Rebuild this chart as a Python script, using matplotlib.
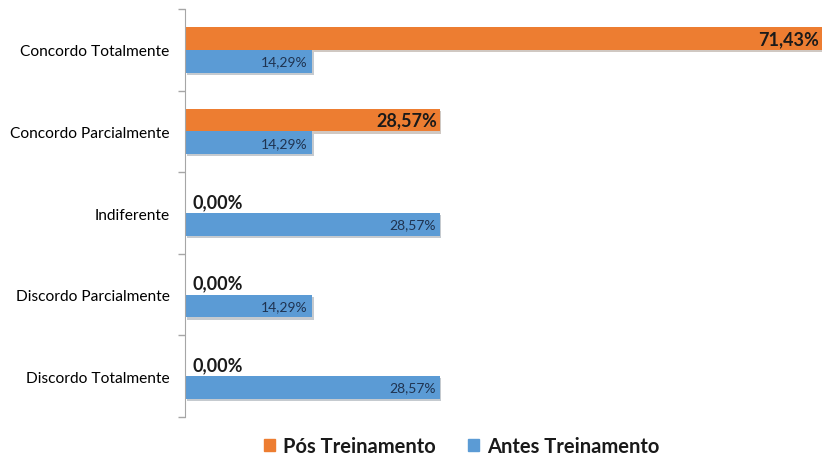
import matplotlib
matplotlib.use("Agg")
import matplotlib.pyplot as plt
import matplotlib.patheffects as pe
from matplotlib.patches import Patch
import numpy as np

plt.rcParams['font.family'] = ['Lato', 'DejaVu Sans']

categories = ["Concordo Totalmente", "Concordo Parcialmente", "Indiferente",
              "Discordo Parcialmente", "Discordo Totalmente"]
pos_treino = [71.43, 28.57, 0.00, 0.00, 0.00]
antes_treino = [14.29, 14.29, 28.57, 14.29, 28.57]
series_names = ["Pós Treinamento", "Antes Treinamento"]

orange = "#ED7D31"
blue = "#5B9BD5"

fig = plt.figure(figsize=(8.24, 4.6), dpi=100)
ax = fig.add_axes([0.2245, 0.0913, 0.7731, 0.8867])

n = len(categories)
y = np.arange(n)[::-1]
h = 0.28
shadow = [pe.SimplePatchShadow(offset=(1.2, -1.5), alpha=0.25), pe.Normal()]

ax.barh(y + h / 2, pos_treino, height=h, color=orange, path_effects=shadow)
ax.barh(y - h / 2, antes_treino, height=h, color=blue, path_effects=shadow)

def fmt(v):
    return f"{v:.2f}%".replace(".", ",")

for yi, v in zip(y, pos_treino):
    if v > 0:
        ax.text(v - 0.3, yi + h / 2, fmt(v), ha='right', va='center',
                fontsize=13, fontweight='bold', color='#1a1a1a')
    else:
        # zero values sit just past the axis line
        ax.text(0.8, yi + h / 2, fmt(v), ha='left', va='center',
                fontsize=13, fontweight='bold', color='#1a1a1a')

for yi, v in zip(y, antes_treino):
    ax.text(v - 0.5, yi - h / 2, fmt(v), ha='right', va='center',
            fontsize=10, color='#1f3350')

ax.set_xlim(0, 71.43)
ax.set_ylim(-0.5, n - 0.5)
ax.set_yticks(y)
ax.set_yticklabels(categories, fontsize=11.2)
ax.set_yticks(np.arange(-0.5, n, 1.0), minor=True)
ax.tick_params(axis='y', which='major', length=0, pad=11)
ax.tick_params(axis='y', which='minor', length=5, color='#a6a6a6', width=1)
ax.set_xticks([])
for s in ['top', 'right', 'bottom']:
    ax.spines[s].set_visible(False)
ax.spines['left'].set_color('#a6a6a6')

handles = [Patch(color=orange), Patch(color=blue)]
leg = fig.legend(handles=handles, labels=series_names, loc='center',
                 bbox_to_anchor=(0.56, 0.028), ncol=2, frameon=False,
                 prop={'size': 14.5, 'weight': 'bold'}, handlelength=0.55,
                 handleheight=0.55, handletextpad=0.4, columnspacing=1.6)
for t in leg.get_texts():
    t.set_color('#1a1a1a')

fig.savefig("out.png", dpi=100)
